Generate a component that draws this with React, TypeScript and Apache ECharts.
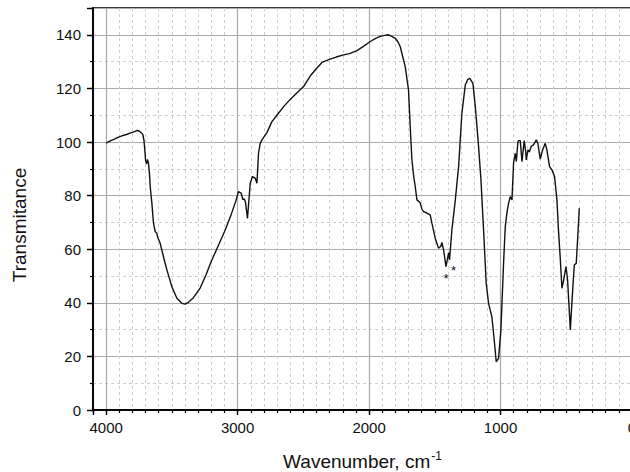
import React, { useEffect, useRef } from "react";
import * as echarts from "echarts";

const wavenumbers = [
  4000, 3980, 3960, 3940, 3920, 3900, 3880, 3860, 3840, 3820, 3800, 3780, 3766, 3750, 3736, 3721, 3712, 3705,
  3700, 3692, 3686, 3678, 3670, 3665, 3652, 3640, 3627, 3615, 3608, 3589, 3564, 3538, 3500, 3462, 3424, 3400,
  3374, 3336, 3285, 3240, 3200, 3150, 3100, 3050, 3010, 2994, 2973, 2960, 2950, 2940, 2925, 2904, 2887, 2866,
  2853, 2841, 2828, 2815, 2777, 2740, 2701, 2650, 2600, 2550, 2500, 2448, 2400, 2370, 2359, 2340, 2296, 2250,
  2194, 2150, 2092, 2040, 1991, 1950, 1915, 1870, 1851, 1830, 1801, 1780, 1763, 1745, 1725, 1700, 1687, 1674,
  1660, 1649, 1636, 1611, 1598, 1586, 1560, 1535, 1522, 1497, 1472, 1455, 1446, 1433, 1415, 1405, 1395, 1388,
  1370, 1344, 1319, 1294, 1268, 1250, 1235, 1210, 1192, 1167, 1149, 1129, 1109, 1091, 1066, 1048, 1033, 1015,
  997, 977, 964, 950, 939, 926, 913, 901, 888, 880, 868, 862, 850, 837, 820, 810, 804, 792, 781, 766, 749, 728,
  716, 698, 680, 660, 647, 627, 609, 589, 571, 558, 545, 533, 520, 502, 490, 469, 456, 439, 424, 411, 401,
];

const transmittance = [
  99.6, 100.1, 100.6, 101.0, 101.5, 101.9, 102.3, 102.6, 102.9, 103.3, 103.6, 104.0, 104.3, 104.1, 103.6, 102.8, 100.5, 96.5,
  93.0, 91.8, 93.5, 92.0, 88.0, 83.4, 77.1, 69.7, 66.6, 66.0, 64.5, 62.2, 57.2, 52.3, 46.0, 41.7, 39.8, 39.5,
  40.2, 41.9, 45.5, 50.5, 55.5, 61.0, 66.5, 72.8, 78.5, 81.5, 80.9, 78.5, 78.8, 77.5, 71.5, 84.6, 87.1, 86.5,
  84.6, 95.8, 99.5, 100.8, 103.5, 107.5, 110.0, 113.2, 115.9, 118.3, 120.6, 124.6, 127.4, 129.0, 129.7, 130.1, 130.9, 131.7,
  132.5, 133.0, 134.1, 135.8, 137.5, 138.7, 139.4, 139.9, 140.0, 139.5, 138.7, 137.3, 135.6, 132.0, 128.1, 119.4, 105.7, 93.3,
  87.0, 83.4, 78.4, 77.3, 75.0, 74.0, 73.5, 72.8, 69.7, 64.1, 60.4, 61.0, 62.5, 59.7, 53.5, 56.0, 58.7, 56.0,
  67.2, 78.4, 90.8, 110.7, 121.3, 123.3, 123.8, 121.9, 113.2, 98.3, 85.9, 67.2, 47.3, 39.8, 34.8, 26.1, 18.0, 19.3,
  29.9, 54.8, 68.4, 74.0, 77.1, 79.6, 78.4, 92.1, 95.8, 92.7, 100.0, 100.5, 100.5, 92.7, 100.5, 97.0, 93.3, 97.0, 96.3, 98.5, 98.9, 100.8,
  99.5, 93.6, 97.0, 99.5, 97.0, 90.8, 89.6, 87.1, 78.4, 66.0, 56.0, 45.4, 48.5, 53.5, 48.5, 29.9, 41.1, 54.1, 54.8, 66.0, 75.3,
];

const starMarks: [number, number][] = [
  [1415, 53.5],
  [1388, 56.0],
];

const xMin = 0;
const xMax = 4100;
const xMajor = 1000;
const xMinor = 100;
const yMin = 0;
const yMax = 150;
const yMajor = 20;
const yMinor = 10;

const FONT = "'Liberation Sans', Arial, Helvetica, sans-serif";

export default function App() {
  const ref = useRef<HTMLDivElement>(null);
  useEffect(() => {
    if (!ref.current) return;
    const chart = echarts.init(ref.current, undefined, { renderer: "svg" });
    const data = wavenumbers.map((w, i) => [w, transmittance[i]]);
    const minorGrid = { show: true, lineStyle: { color: "#cfcfcf", width: 1, type: [3, 3] as any } };
    const majorGrid = { show: true, lineStyle: { color: "#a9a9a9", width: 1.2, type: "solid" as const } };
    const axisLine = { show: true, onZero: false, lineStyle: { color: "#000", width: 1.5 } };
    chart.setOption({
      animation: false,
      backgroundColor: "#fff",
      grid: {
        left: 93,
        right: -2,
        top: 8,
        bottom: 62,
        show: true,
        borderColor: "#000",
        borderWidth: 1.5,
        containLabel: false,
        outerBoundsMode: "none",
      },
      xAxis: [
        {
          type: "value",
          inverse: true,
          min: xMin,
          max: xMax,
          interval: xMinor,
          position: "bottom",
          axisLine,
          axisTick: { show: true, inside: false, length: 3, lineStyle: { color: "#000", width: 1.2 } },
          axisLabel: { show: false },
          splitLine: minorGrid,
        },
        {
          type: "value",
          inverse: true,
          min: xMin,
          max: xMax,
          interval: xMajor,
          position: "bottom",
          axisLine,
          axisTick: { show: true, inside: false, length: 5, lineStyle: { color: "#000", width: 1.4 } },
          axisLabel: {
            show: true,
            margin: 10,
            fontSize: 15,
            color: "#111",
            fontFamily: FONT,
            formatter: (v: number) => (v % xMajor === 0 ? String(v) : ""),
          },
          splitLine: majorGrid,
          name: "{a|Wavenumber, cm}{b|-1}",
          nameLocation: "middle",
          nameGap: 40,
          nameTextStyle: {
            rich: {
              a: { fontSize: 19, fontFamily: FONT, color: "#111" },
              b: { fontSize: 12, fontFamily: FONT, color: "#111", verticalAlign: "bottom", padding: [0, 0, 10, 1] },
            },
          },
        },
      ],
      yAxis: [
        {
          type: "value",
          position: "left",
          min: yMin,
          max: yMax,
          interval: yMinor,
          axisLine,
          axisTick: { show: true, inside: false, length: 3, lineStyle: { color: "#000", width: 1.2 } },
          axisLabel: { show: false },
          splitLine: minorGrid,
        },
        {
          type: "value",
          position: "left",
          offset: 0,
          min: yMin,
          max: yMax,
          interval: yMajor,
          axisLine,
          axisTick: { show: true, inside: false, length: 6, lineStyle: { color: "#000", width: 1.4 } },
          axisLabel: {
            show: true,
            margin: 12,
            fontSize: 15,
            color: "#111",
            fontFamily: FONT,
            formatter: (v: number) => (v % yMajor === 0 ? String(v) : ""),
          },
          splitLine: majorGrid,
          name: "Transmitance",
          nameLocation: "middle",
          nameGap: 64,
          nameTextStyle: { fontSize: 19, fontFamily: FONT, color: "#111", padding: [0, 32, 0, 0] },
        },
      ],
      series: [
        {
          type: "line",
          xAxisIndex: 1,
          yAxisIndex: 1,
          data,
          showSymbol: false,
          symbol: "none",
          smooth: false,
          lineStyle: { color: "#111", width: 1.4 },
          itemStyle: { color: "#111" },
          z: 5,
          markPoint: {
            symbol: "circle",
            symbolSize: 0,
            silent: true,
            itemStyle: { color: "#111" },
            label: { show: true, formatter: "*", fontSize: 13, color: "#111", fontFamily: FONT },
            data: [
              { coord: starMarks[0], label: { offset: [0, 12] } },
              { coord: starMarks[1], label: { offset: [4, 11] } },
            ],
          },
        },
      ],
    });
    return () => chart.dispose();
  }, []);
  return <div ref={ref} style={{ position: "fixed", left: 0, top: 0, width: 630, height: 472 }} />;
}
